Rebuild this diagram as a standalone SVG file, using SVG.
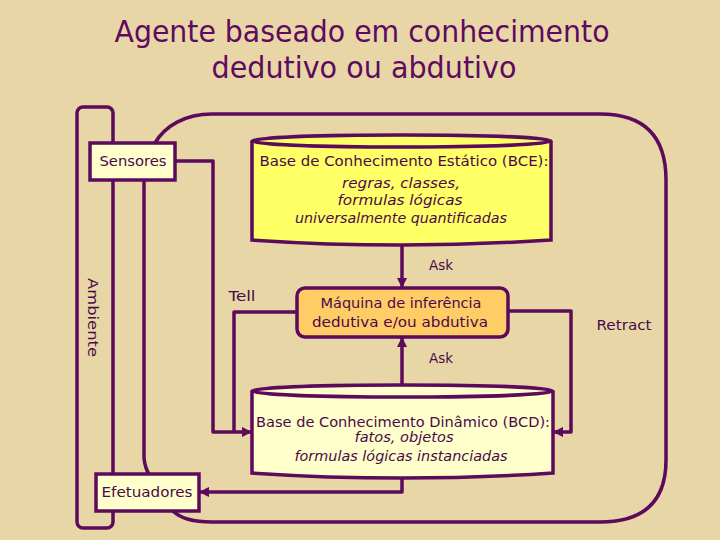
<svg xmlns="http://www.w3.org/2000/svg" width="720" height="540" viewBox="0 0 720 540">
<defs>
<marker id="arr" viewBox="0 0 10 10" refX="9" refY="5" markerWidth="3" markerHeight="3" orient="auto" markerUnits="strokeWidth">
<path d="M0,0 L10,5 L0,10 z" fill="#5C0A5C"/>
</marker>
<style>
.ln{fill:none;stroke:#5C0A5C;stroke-width:3.5;stroke-linejoin:round}
.bx{stroke:#5C0A5C;stroke-width:3.5}
text{font-family:"DejaVu Sans","Liberation Sans",sans-serif;fill:#4A0A4A;text-anchor:middle}
.t{font-size:30px;fill:#5E0A5E}
.n{font-size:14px}
.i{font-size:14px;font-style:italic}
.l{font-size:14px}
</style>
</defs>
<rect x="0" y="0" width="720" height="540" fill="#E9D6A6"/>
<g id="title">
<text class="t" x="362" y="42" textLength="495" lengthAdjust="spacingAndGlyphs">Agente baseado em conhecimento</text>
<text class="t" x="364" y="78" textLength="305" lengthAdjust="spacingAndGlyphs">dedutivo ou abdutivo</text>
</g>
<g id="ambiente">
<rect class="ln" x="77" y="107" width="36" height="421" rx="6"/>
<text class="l" x="0" y="0" font-size="15" transform="translate(88,317.5) rotate(90)" textLength="79" lengthAdjust="spacingAndGlyphs">Ambiente</text>
</g>
<g id="connectors">
<path class="ln" d="M155,143 C165,126 185,114 212,114 H600 Q666,114 666,180 V460 Q666,522 600,522 H212 C192,522 180,518 173,511"/>
<path class="ln" d="M144,180 V458 Q145,468 149,474"/>
<path class="ln" d="M175,161 H213 V432 H251" marker-end="url(#arr)"/>
<path class="ln" d="M298,312 H234 V432"/>
<path class="ln" d="M508,311 H571 V432 H554" marker-end="url(#arr)"/>
<path class="ln" d="M402,478 V492 H200" marker-end="url(#arr)"/>
<path class="ln" d="M402,246 V287" marker-end="url(#arr)"/>
<path class="ln" d="M402,386 V338" marker-end="url(#arr)"/>
<text class="l" x="441" y="270" textLength="24" lengthAdjust="spacingAndGlyphs">Ask</text>
<text class="l" x="441" y="363" textLength="24" lengthAdjust="spacingAndGlyphs">Ask</text>
<text class="l" x="242" y="301" textLength="27" lengthAdjust="spacingAndGlyphs">Tell</text>
<text class="l" x="624" y="330" textLength="55" lengthAdjust="spacingAndGlyphs">Retract</text>
</g>
<g id="sensores">
<rect class="bx" x="90" y="143" width="85" height="37" fill="#FFFFCC"/>
<text class="n" x="133" y="166" textLength="67" lengthAdjust="spacingAndGlyphs">Sensores</text>
</g>
<g id="efetuadores">
<rect class="bx" x="96" y="474" width="103" height="37" fill="#FFFFCC"/>
<text class="n" x="147" y="497" textLength="91" lengthAdjust="spacingAndGlyphs">Efetuadores</text>
</g>
<g id="bce">
<path class="bx" fill="#FFFF66" d="M252,141 A149.5,6 0 0 1 551,141 V240 Q402,250 252,240 Z"/>
<path class="ln" d="M252,141 A149.5,6 0 0 0 551,141"/>
<text class="n" x="404" y="166" textLength="289" lengthAdjust="spacingAndGlyphs">Base de Conhecimento Estático (BCE):</text>
<text class="i" x="401" y="188" textLength="118" lengthAdjust="spacingAndGlyphs">regras, classes,</text>
<text class="i" x="400" y="205" textLength="125" lengthAdjust="spacingAndGlyphs">formulas lógicas</text>
<text class="i" x="401" y="223" textLength="212" lengthAdjust="spacingAndGlyphs">universalmente quantificadas</text>
</g>
<g id="maquina">
<rect class="bx" x="297" y="288" width="211" height="49" rx="8" fill="#FFCC66"/>
<text class="n" x="401" y="308" textLength="161" lengthAdjust="spacingAndGlyphs">Máquina de inferência</text>
<text class="n" x="400" y="327" textLength="176" lengthAdjust="spacingAndGlyphs">dedutiva e/ou abdutiva</text>
</g>
<g id="bcd">
<path class="bx" fill="#FFFFCC" d="M252,391 A150.5,6 0 0 1 553,391 V473 Q402,483 252,473 Z"/>
<path class="ln" d="M252,391 A150.5,6 0 0 0 553,391"/>
<text class="n" x="403" y="427" textLength="294" lengthAdjust="spacingAndGlyphs">Base de Conhecimento Dinâmico (BCD):</text>
<text class="i" x="404" y="442" textLength="99" lengthAdjust="spacingAndGlyphs">fatos, objetos</text>
<text class="i" x="401" y="461" textLength="213" lengthAdjust="spacingAndGlyphs">formulas lógicas instanciadas</text>
</g>
</svg>
